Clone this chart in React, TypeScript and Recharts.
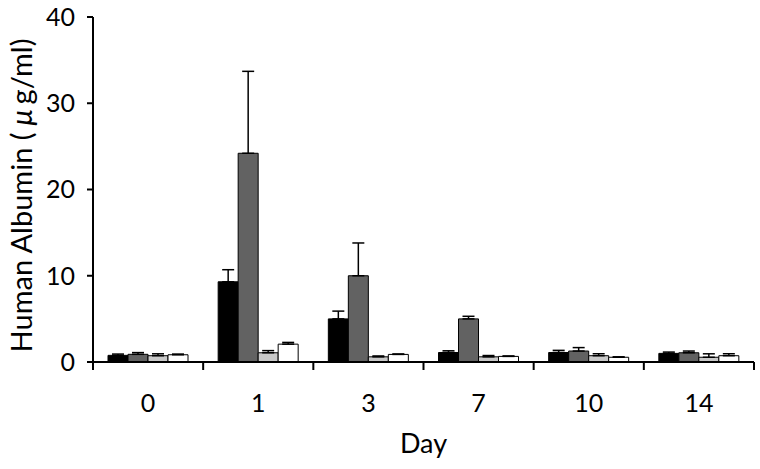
import React from "react";
import { BarChart, Bar, XAxis, YAxis, ErrorBar } from "recharts";

const days = ["0", "1", "3", "7", "10", "14"];
const yTicks = [0, 10, 20, 30, 40];

const blackVals = [0.77, 9.3, 5.0, 1.1, 1.1, 1.0];
const blackErr = [0.15, 1.4, 0.9, 0.2, 0.25, 0.15];
const darkVals = [0.89, 24.2, 10.0, 5.0, 1.27, 1.07];
const darkErr = [0.2, 9.5, 3.8, 0.3, 0.4, 0.2];
const lightVals = [0.73, 1.07, 0.6, 0.6, 0.73, 0.55];
const lightErr = [0.22, 0.25, 0.1, 0.15, 0.23, 0.4];
const whiteVals = [0.84, 2.07, 0.88, 0.65, 0.55, 0.73];
const whiteErr = [0.08, 0.2, 0.05, 0.05, 0.05, 0.23];

const data = days.map((d, i) => ({
  day: d,
  black: blackVals[i],
  blackE: [0, blackErr[i]],
  dark: darkVals[i],
  darkE: [0, darkErr[i]],
  light: lightVals[i],
  lightE: [0, lightErr[i]],
  white: whiteVals[i],
  whiteE: [0, whiteErr[i]],
}));

const FONT = "Lato, 'DejaVu Sans', sans-serif";
const PLOT_W = 661;

const DayTick = (props: any) => {
  const { x, y, payload, index, visibleTicksCount } = props;
  const count = visibleTicksCount ?? days.length;
  const band = (props.width ?? PLOT_W) / count;
  const top = y - 8;
  return (
    <g>
      <line x1={x - band / 2} x2={x - band / 2} y1={top} y2={top + 8} stroke="#000" strokeWidth={2} />
      {index === count - 1 && (
        <line x1={x + band / 2} x2={x + band / 2} y1={top} y2={top + 8} stroke="#000" strokeWidth={2} />
      )}
      <text x={x} y={top + 50} textAnchor="middle" fontSize={25} fontFamily={FONT} fill="#000">
        {payload.value}
      </text>
    </g>
  );
};

const YLabel = (props: any) => {
  const vb = props.viewBox || {};
  const cx = 32;
  const cy = (vb.y ?? 17) + (vb.height ?? 345) / 2 + 6;
  return (
    <text
      x={cx}
      y={cy}
      transform={`rotate(-90, ${cx}, ${cy})`}
      textAnchor="middle"
      fontSize={29}
      fontFamily={FONT}
      fill="#000"
    >
      Human Albumin (
      <tspan fontStyle="italic" dx={7}>μ</tspan>
      <tspan dx={5}>g/ml)</tspan>
    </text>
  );
};

export default function App() {
  return (
    <div style={{ position: "absolute", left: 0, top: 0, background: "#fff" }}>
      <BarChart
        width={760}
        height={469}
        data={data}
        margin={{ top: 17, right: 6, bottom: 0, left: 0 }}
        barSize={20}
        barGap={0}
      >
        <XAxis
          dataKey="day"
          height={107}
          tickLine={false}
          tickSize={8}
          tickMargin={0}
          axisLine={{ stroke: "#000", strokeWidth: 2 }}
          tick={<DayTick />}
          interval={0}
          label={{ value: "Day", position: "insideBottom", offset: 16, fontSize: 27, fontFamily: FONT, fill: "#000" }}
        />
        <YAxis
          width={93}
          domain={[0, 40]}
          ticks={yTicks}
          interval={0}
          tickSize={6}
          tickMargin={12}
          tickLine={{ stroke: "#000", strokeWidth: 2 }}
          axisLine={{ stroke: "#000", strokeWidth: 2 }}
          tick={{ fontSize: 25, fontFamily: FONT, fill: "#000" }}
          label={{ content: <YLabel /> }}
        />
        <Bar dataKey="black" fill="#000" stroke="#000" strokeWidth={1} isAnimationActive={false}>
          <ErrorBar dataKey="blackE" width={6} stroke="#000" strokeWidth={1.5} direction="y" />
        </Bar>
        <Bar dataKey="dark" fill="#626262" stroke="#000" strokeWidth={1} isAnimationActive={false}>
          <ErrorBar dataKey="darkE" width={6} stroke="#000" strokeWidth={1.5} direction="y" />
        </Bar>
        <Bar dataKey="light" fill="#c9c9c9" stroke="#000" strokeWidth={1} isAnimationActive={false}>
          <ErrorBar dataKey="lightE" width={6} stroke="#000" strokeWidth={1.5} direction="y" />
        </Bar>
        <Bar dataKey="white" fill="#fff" stroke="#000" strokeWidth={1} isAnimationActive={false}>
          <ErrorBar dataKey="whiteE" width={6} stroke="#000" strokeWidth={1.5} direction="y" />
        </Bar>
      </BarChart>
    </div>
  );
}
